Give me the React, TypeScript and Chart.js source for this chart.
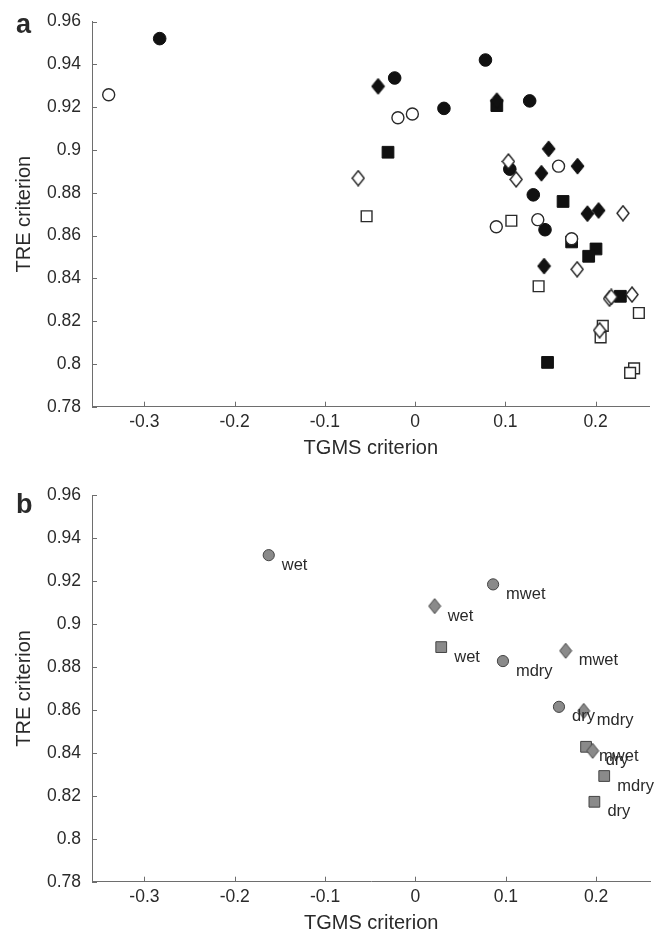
import React, { useEffect, useRef } from 'react';
import { Chart, registerables } from 'chart.js';

Chart.register(...registerables);

// ---------- axes ----------
const X_TICKS = [-0.3, -0.2, -0.1, 0, 0.1, 0.2];
const Y_TICKS = [0.78, 0.8, 0.82, 0.84, 0.86, 0.88, 0.9, 0.92, 0.94, 0.96];
const X_MIN = -0.358;
const X_MAX = 0.26;
const Y_MIN = 0.78;
const Y_MAX = 0.96;
const X_TITLE = 'TGMS criterion';
const Y_TITLE = 'TRE criterion';

// ---------- panel a ----------
const aFilledCircleX = [-0.283, 0.078, -0.0226, 0.032, 0.127, 0.105, 0.131, 0.144];
const aFilledCircleY = [0.952, 0.942, 0.9336, 0.9194, 0.9229, 0.891, 0.879, 0.8627];

const aOpenCircleX = [-0.3395, -0.019, -0.003, 0.159, 0.09, 0.136, 0.1735];
const aOpenCircleY = [0.9258, 0.915, 0.9168, 0.8924, 0.8641, 0.8674, 0.8585];

const aFilledDiamondX = [-0.041, 0.0906, 0.148, 0.18, 0.14, 0.191, 0.2034, 0.143];
const aFilledDiamondY = [0.9297, 0.923, 0.9005, 0.8924, 0.8891, 0.8702, 0.8717, 0.8457];

const aOpenDiamondX = [-0.063, 0.1034, 0.112, 0.2304, 0.1796, 0.2155, 0.2174, 0.2404, 0.2045];
const aOpenDiamondY = [0.8868, 0.8946, 0.8862, 0.8704, 0.8442, 0.8305, 0.8313, 0.8324, 0.8157];

const aFilledSquareX = [-0.03, 0.0906, 0.164, 0.1735, 0.2005, 0.1924, 0.2275, 0.1468];
const aFilledSquareY = [0.8989, 0.9207, 0.8759, 0.857, 0.8537, 0.8503, 0.8316, 0.8007];

const aOpenSquareX = [-0.0537, 0.1067, 0.1369, 0.248, 0.208, 0.2056, 0.2427, 0.2383];
const aOpenSquareY = [0.869, 0.8669, 0.8363, 0.8238, 0.8178, 0.8124, 0.7979, 0.7958];

// ---------- panel b ----------
const bCircleLabels = ['wet', 'mwet', 'mdry', 'dry'];
const bCircleX = [-0.1624, 0.0859, 0.0968, 0.1588];
const bCircleY = [0.932, 0.9184, 0.8827, 0.8614];

const bDiamondLabels = ['wet', 'mwet', 'mdry', 'dry'];
const bDiamondX = [0.0212, 0.1662, 0.1862, 0.1961];
const bDiamondY = [0.9083, 0.8875, 0.8595, 0.8409];

const bSquareLabels = ['wet', 'mwet', 'mdry', 'dry'];
const bSquareX = [0.0285, 0.1888, 0.2089, 0.198];
const bSquareY = [0.8892, 0.8428, 0.8292, 0.8172];

// ---------- styles ----------
const FONT = '"Liberation Sans", Arial, Helvetica, sans-serif';
const TEXT = '#2a2a2a';
const AXIS = '#6e6e6e';
const W = 659;
const H = 468;

const pts = (xs: number[], ys: number[]) => xs.map((x, i) => ({ x, y: ys[i] }));

function makeDiamond(w: number, h: number, fill: string, stroke: string, lw: number) {
  const c = document.createElement('canvas');
  c.width = w + 2;
  c.height = h + 2;
  const g = c.getContext('2d')!;
  const cx = c.width / 2;
  const cy = c.height / 2;
  g.beginPath();
  g.moveTo(cx, 1);
  g.lineTo(c.width - 1, cy);
  g.lineTo(cx, c.height - 1);
  g.lineTo(1, cy);
  g.closePath();
  g.fillStyle = fill;
  g.fill();
  g.lineWidth = lw;
  g.strokeStyle = stroke;
  g.stroke();
  return c;
}

function decorPlugin(letter: string, letterY: number) {
  return {
    id: 'decor',
    afterDraw(chart: any) {
      const { ctx, chartArea } = chart;
      const xs = chart.scales.x;
      const ys = chart.scales.y;
      ctx.save();
      ctx.strokeStyle = AXIS;
      ctx.lineWidth = 1;
      X_TICKS.forEach((v) => {
        const px = Math.round(xs.getPixelForValue(v)) + 0.5;
        ctx.beginPath();
        ctx.moveTo(px, chartArea.bottom);
        ctx.lineTo(px, chartArea.bottom - 5);
        ctx.stroke();
      });
      Y_TICKS.forEach((v) => {
        const py = Math.round(ys.getPixelForValue(v)) + 0.5;
        ctx.beginPath();
        ctx.moveTo(chartArea.left, py);
        ctx.lineTo(chartArea.left + 5, py);
        ctx.stroke();
      });
      ctx.fillStyle = TEXT;
      ctx.font = `20px ${FONT}`;
      ctx.textAlign = 'center';
      ctx.textBaseline = 'middle';
      ctx.fillText(X_TITLE, (chartArea.left + chartArea.right) / 2, chartArea.bottom + 42);
      ctx.save();
      ctx.translate(24, (chartArea.top + chartArea.bottom) / 2);
      ctx.rotate(-Math.PI / 2);
      ctx.fillText(Y_TITLE, 0, 0);
      ctx.restore();
      ctx.font = `bold 27px ${FONT}`;
      ctx.textAlign = 'left';
      ctx.textBaseline = 'alphabetic';
      ctx.fillText(letter, 16, letterY);
      ctx.restore();
    },
  };
}

const labelPlugin = {
  id: 'pointLabels',
  afterDatasetsDraw(chart: any) {
    const { ctx } = chart;
    ctx.save();
    ctx.fillStyle = TEXT;
    ctx.font = `16.5px ${FONT}`;
    ctx.textAlign = 'left';
    ctx.textBaseline = 'middle';
    chart.data.datasets.forEach((ds: any, i: number) => {
      if (!ds.pointLabels) return;
      const meta = chart.getDatasetMeta(i);
      meta.data.forEach((el: any, j: number) => {
        ctx.fillText(ds.pointLabels[j], el.x + 13, el.y + 10);
      });
    });
    ctx.restore();
  },
};

function baseOptions(padTop: number, xHeight: number): any {
  return {
    responsive: false,
    animation: false,
    events: [],
    layout: { padding: { left: 0, top: padTop, right: 4, bottom: 0 } },
    plugins: { legend: { display: false }, tooltip: { enabled: false } },
    scales: {
      x: {
        type: 'linear',
        min: X_MIN,
        max: X_MAX,
        afterBuildTicks: (s: any) => {
          s.ticks = X_TICKS.map((v) => ({ value: v }));
        },
        afterFit: (s: any) => {
          s.height = xHeight;
        },
        grid: { display: false, drawTicks: false, tickLength: 0 },
        border: { display: true, color: AXIS, width: 1 },
        ticks: {
          padding: 5,
          color: TEXT,
          font: { family: FONT, size: 17.5 },
          maxRotation: 0,
          callback: (v: any) => String(Number(Number(v).toFixed(2))),
        },
      },
      y: {
        type: 'linear',
        min: Y_MIN,
        max: Y_MAX,
        afterBuildTicks: (s: any) => {
          s.ticks = Y_TICKS.map((v) => ({ value: v }));
        },
        afterFit: (s: any) => {
          s.width = 92;
        },
        grid: { display: false, drawTicks: false, tickLength: 0 },
        border: { display: true, color: AXIS, width: 1 },
        ticks: {
          padding: 11,
          color: TEXT,
          font: { family: FONT, size: 17.5 },
          callback: (v: any) => String(Number(Number(v).toFixed(2))),
        },
      },
    },
  };
}

function PanelA() {
  const ref = useRef<HTMLCanvasElement>(null);
  useEffect(() => {
    const dFill = makeDiamond(13, 16, '#111111', '#111111', 1);
    const dOpen = makeDiamond(12, 15, '#ffffff', '#222222', 1.4);
    const chart = new Chart(ref.current!, {
      type: 'scatter',
      data: {
        datasets: [
          { data: pts(aOpenCircleX, aOpenCircleY), pointStyle: 'circle', pointRadius: 6, backgroundColor: '#ffffff', borderColor: '#2a2a2a', borderWidth: 1.4 },
          { data: pts(aOpenDiamondX, aOpenDiamondY), pointStyle: dOpen as any, pointRadius: 7 },
          { data: pts(aOpenSquareX, aOpenSquareY), pointStyle: 'rect', pointRadius: 7.6, backgroundColor: '#ffffff', borderColor: '#2a2a2a', borderWidth: 1.4 },
          { data: pts(aFilledCircleX, aFilledCircleY), pointStyle: 'circle', pointRadius: 6.3, backgroundColor: '#111111', borderColor: '#111111', borderWidth: 1 },
          { data: pts(aFilledDiamondX, aFilledDiamondY), pointStyle: dFill as any, pointRadius: 7 },
          { data: pts(aFilledSquareX, aFilledSquareY), pointStyle: 'rect', pointRadius: 8.3, backgroundColor: '#111111', borderColor: '#111111', borderWidth: 1 },
        ] as any,
      },
      options: baseOptions(21, H - 406.7),
      plugins: [decorPlugin('a', 33)],
    });
    return () => chart.destroy();
  }, []);
  return <canvas ref={ref} width={W} height={H} style={{ display: 'block' }} />;
}

function PanelB() {
  const ref = useRef<HTMLCanvasElement>(null);
  useEffect(() => {
    const dGray = makeDiamond(12, 15, '#8a8a8a', '#444444', 1);
    const chart = new Chart(ref.current!, {
      type: 'scatter',
      data: {
        datasets: [
          { data: pts(bCircleX, bCircleY), pointLabels: bCircleLabels, pointStyle: 'circle', pointRadius: 5.6, backgroundColor: '#8a8a8a', borderColor: '#444444', borderWidth: 1 },
          { data: pts(bDiamondX, bDiamondY), pointLabels: bDiamondLabels, pointStyle: dGray as any, pointRadius: 7 },
          { data: pts(bSquareX, bSquareY), pointLabels: bSquareLabels, pointStyle: 'rect', pointRadius: 7.6, backgroundColor: '#8a8a8a', borderColor: '#444444', borderWidth: 1 },
        ] as any,
      },
      options: baseOptions(27, H - 413.7),
      plugins: [labelPlugin, decorPlugin('b', 513 - 468)],
    });
    return () => chart.destroy();
  }, []);
  return <canvas ref={ref} width={W} height={H} style={{ display: 'block' }} />;
}

export default function App() {
  return (
    <div style={{ position: 'absolute', left: 0, top: 0, width: W, height: 2 * H, background: '#ffffff' }}>
      <PanelA />
      <PanelB />
    </div>
  );
}
